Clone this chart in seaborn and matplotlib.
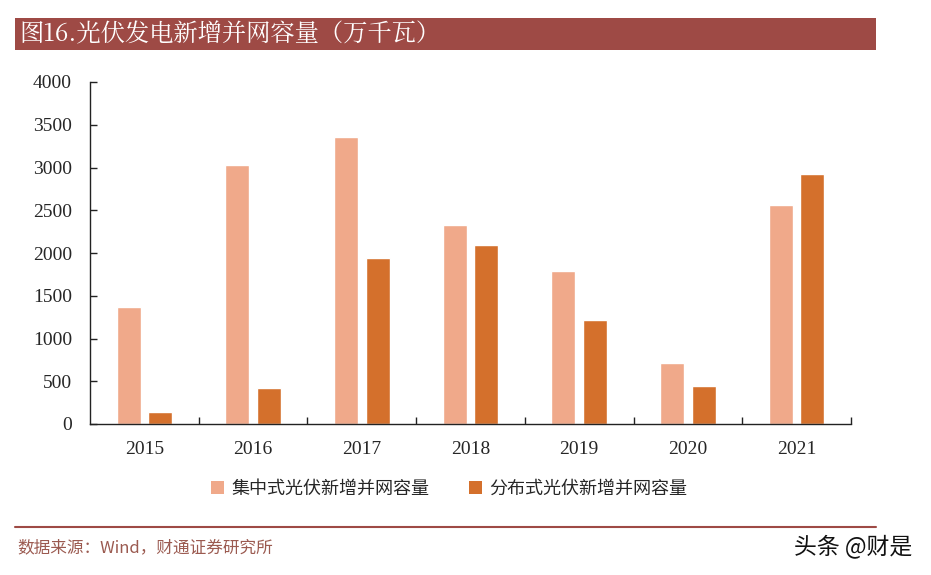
import matplotlib
matplotlib.use("Agg")
import matplotlib.pyplot as plt
import seaborn as sns
import pandas as pd
from matplotlib.patches import Rectangle
from matplotlib.lines import Line2D

years = ["2015", "2016", "2017", "2018", "2019", "2020", "2021"]
central = [1370, 3030, 3360, 2330, 1790, 713, 2560]
distributed = [140, 420, 1940, 2095, 1217, 445, 2925]
series_names = ["集中式光伏新增并网容量", "分布式光伏新增并网容量"]
yticks = [0, 500, 1000, 1500, 2000, 2500, 3000, 3500, 4000]
title = "图16.光伏发电新增并网容量（万千瓦）"
source = "数据来源：Wind，财通证券研究所"
watermark = "头条 @财是"

df = pd.DataFrame({
    "year": years * 2,
    "value": central + distributed,
    "series": [series_names[0]] * len(years) + [series_names[1]] * len(years),
})

sns.set_theme(style="white")
plt.rcParams["font.family"] = ["Noto Sans CJK SC", "DejaVu Sans"]

W, H = 931, 575
fig = plt.figure(figsize=(W / 100, H / 100), dpi=100)
ax = fig.add_axes([90 / W, 1 - 424 / H, (851 - 90) / W, (424 - 82) / H])

sns.barplot(data=df, x="year", y="value", hue="series", ax=ax,
            palette=["#F0A98A", "#D4702C"], width=0.58, gap=0.24,
            saturation=1, legend=False)

ax.set_xlim(-0.5, len(years) - 0.5)
ax.set_ylim(0, 4000)
ax.set_yticks(yticks)
ax.set_yticklabels([str(v) for v in yticks], family="Liberation Serif", fontsize=14)
ax.set_xticks(range(len(years)))
ax.set_xticklabels(years, family="Liberation Serif", fontsize=14)
ax.set_xlabel("")
ax.set_ylabel("")
for s in ["top", "right"]:
    ax.spines[s].set_visible(False)
for s in ["left", "bottom"]:
    ax.spines[s].set_color("#222222")
    ax.spines[s].set_linewidth(1.0)
ax.tick_params(axis="y", direction="in", length=5, width=1, color="#222222", pad=13, left=True)
ax.tick_params(axis="x", which="major", length=0, pad=12)
ax.set_xticks([i + 0.5 for i in range(len(years))], minor=True)
ax.tick_params(axis="x", which="minor", direction="in", length=5, width=1, color="#222222", bottom=True)
ax.grid(False)

# Title bar
fig.patches.append(Rectangle((15 / W, 1 - 50 / H), (876 - 15) / W, 32 / H,
                             transform=fig.transFigure, facecolor="#9E4A45",
                             edgecolor="none", zorder=0))
fig.text(19 / W, 1 - 34 / H, title, color="white", fontsize=17.5,
         va="center", ha="left", family=["Noto Serif CJK SC", "Noto Sans CJK SC", "DejaVu Sans"])

# Legend
handles = [Rectangle((0, 0), 1, 1, facecolor=c, edgecolor="none") for c in ["#F0A98A", "#D4702C"]]
fig.legend(handles, series_names, loc="center", bbox_to_anchor=(449 / W, 1 - 489 / H),
           ncol=2, frameon=False, fontsize=13, handlelength=0.7, handleheight=0.7,
           handletextpad=0.4, columnspacing=2.2)

# Bottom line and source
fig.add_artist(Line2D([15 / W, 876 / W], [1 - 527 / H, 1 - 527 / H],
                      transform=fig.transFigure, color="#9E4A45", linewidth=1.5))
fig.text(17 / W, 1 - 548 / H, source, color="#9B5A50", fontsize=12, va="center", ha="left")
fig.text(912 / W, 1 - 546 / H, watermark, color="#111111", fontsize=16.5, va="center", ha="right")

fig.savefig("out.png", dpi=100)
